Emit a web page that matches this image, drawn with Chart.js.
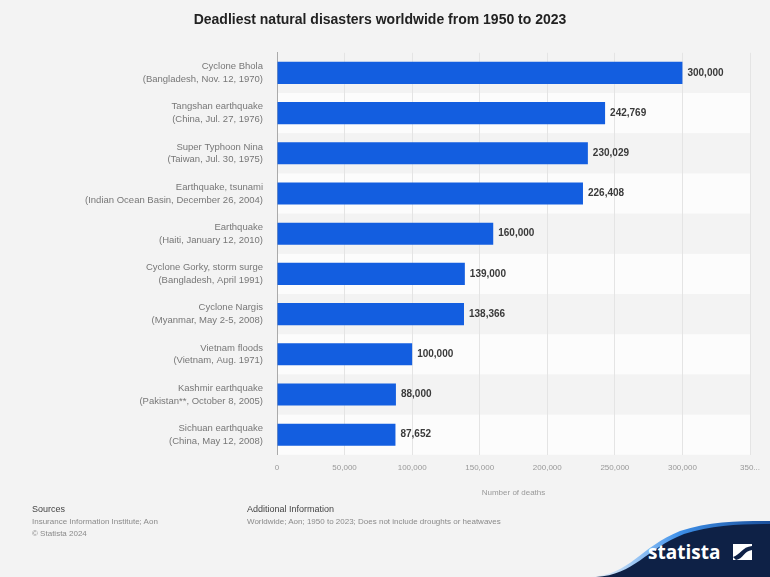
<!DOCTYPE html>
<html>
<head>
<meta charset="utf-8">
<script src="https://cdn.jsdelivr.net/npm/chart.js@4"></script>
<style>
  html, body { margin: 0; padding: 0; background: #f3f3f3; }
  body { width: 770px; height: 577px; position: relative; overflow: hidden; font-family: "Liberation Sans", Arial, sans-serif; }
  #wrap { position: absolute; left: 0; top: 0; width: 770px; height: 505px; }
  .foot { position: absolute; top: 503px; font-size: 8px; color: #8a8a8a; line-height: 12px; }
  .foot b { color: #444; font-weight: normal; font-size: 9px; }
  #logo { position: absolute; right: 0; bottom: 0; width: 180px; height: 60px; }
</style>
</head>
<body>
<div id="wrap"><canvas id="chart" width="770" height="505"></canvas></div>

<div class="foot" style="left:32px"><b>Sources</b><br>Insurance Information Institute; Aon<br>© Statista 2024</div>
<div class="foot" style="left:247px"><b>Additional Information</b><br>Worldwide; Aon; 1950 to 2023; Does not include droughts or heatwaves</div>

<svg id="logo" viewBox="0 0 180 60">
  <defs>
    <linearGradient id="edge" x1="0" y1="0" x2="1" y2="0">
      <stop offset="0" stop-color="#4aa3ff" stop-opacity="0"/>
      <stop offset="0.5" stop-color="#3d8fe8"/>
      <stop offset="1" stop-color="#1b4f9a"/>
    </linearGradient>
  </defs>
  <path d="M0 60 C40 58 50 30 90 14 C120 4 150 4 180 4 L180 60 Z" fill="url(#edge)"/>
  <path d="M6 60 C44 58 56 32 94 17 C122 8 150 7 180 7 L180 60 Z" fill="#0e2146"/>
  <text x="58" y="42" fill="#ffffff" font-family="'Open Sans', 'DejaVu Sans', sans-serif" font-weight="bold" font-size="19">statista</text>
  <rect x="143" y="27" width="19" height="16" fill="#ffffff"/>
  <path d="M143 40 C150 38 152 30 162 29 L162 33 C154 34 153 42 146 43 Z" fill="#0e2146"/>
</svg>

<script>
/* ---------- data ---------- */
const disasters = [
  ["Cyclone Bhola", "(Bangladesh, Nov. 12, 1970)"],
  ["Tangshan earthquake", "(China, Jul. 27, 1976)"],
  ["Super Typhoon Nina", "(Taiwan, Jul. 30, 1975)"],
  ["Earthquake, tsunami", "(Indian Ocean Basin, December 26, 2004)"],
  ["Earthquake", "(Haiti, January 12, 2010)"],
  ["Cyclone Gorky, storm surge", "(Bangladesh, April 1991)"],
  ["Cyclone Nargis", "(Myanmar, May 2-5, 2008)"],
  ["Vietnam floods", "(Vietnam, Aug. 1971)"],
  ["Kashmir earthquake", "(Pakistan**, October 8, 2005)"],
  ["Sichuan earthquake", "(China, May 12, 2008)"]
];
const deaths = [300000, 242769, 230029, 226408, 160000, 139000, 138366, 100000, 88000, 87652];
const xTicks = [0, 50000, 100000, 150000, 200000, 250000, 300000, 350000];

const BAR_BLUE = "#135ee0";
const fmt = v => v.toLocaleString("en-US");

/* ---------- plugins ---------- */
// alternating row bands, painted before grid and bars
const rowBands = {
  id: "rowBands",
  beforeDraw(chart) {
    const { ctx, chartArea, scales } = chart;
    const y = scales.y;
    const step = y.getPixelForValue(1) - y.getPixelForValue(0);
    ctx.save();
    disasters.forEach((_, i) => {
      if (i % 2 === 0) return;
      const c = y.getPixelForValue(i);
      ctx.fillStyle = "rgba(255,255,255,0.7)";
      ctx.fillRect(chartArea.left, c - step / 2, chartArea.right - chartArea.left, step);
    });
    ctx.restore();
  }
};

// value labels at the end of each bar
const valueLabels = {
  id: "valueLabels",
  afterDatasetsDraw(chart) {
    const { ctx } = chart;
    const meta = chart.getDatasetMeta(0);
    ctx.save();
    ctx.font = "bold 10px 'Liberation Sans', Arial, sans-serif";
    ctx.fillStyle = "#3a3a3a";
    ctx.textBaseline = "middle";
    meta.data.forEach((bar, i) => {
      ctx.fillText(fmt(deaths[i]), bar.x + 5, bar.y);
    });
    ctx.restore();
  }
};

/* ---------- chart ---------- */
new Chart(document.getElementById("chart"), {
  type: "bar",
  data: {
    labels: disasters,
    datasets: [{
      data: deaths,
      backgroundColor: BAR_BLUE,
      barPercentage: 0.55,
      categoryPercentage: 1
    }]
  },
  options: {
    indexAxis: "y",
    responsive: false,
    animation: false,
    layout: { padding: { left: 10, right: 20, top: 0, bottom: 7 } },
    plugins: {
      legend: { display: false },
      tooltip: { enabled: false },
      title: {
        display: true,
        text: "Deadliest natural disasters worldwide from 1950 to 2023",
        color: "#222",
        font: { family: "'Liberation Sans', Arial, sans-serif", size: 14, weight: "bold" },
        padding: { top: 12, bottom: 24 }
      }
    },
    scales: {
      x: {
        min: 0,
        max: 350000,
        afterBuildTicks: s => { s.ticks = xTicks.map(v => ({ value: v })); },
        ticks: {
          color: "#999",
          font: { family: "'Liberation Sans', Arial, sans-serif", size: 8 },
          padding: 8,
          maxRotation: 0,
          callback: v => (v === 350000 ? "350..." : fmt(v))
        },
        grid: { color: "#e4e4e4", drawTicks: false },
        border: { display: false },
        title: {
          display: true,
          text: "Number of deaths",
          color: "#999",
          font: { family: "'Liberation Sans', Arial, sans-serif", size: 8 },
          padding: { top: 8, bottom: 0 }
        }
      },
      y: {
        afterFit: s => { s.width = 267; },
        ticks: {
          color: "#777",
          font: { family: "'Liberation Sans', Arial, sans-serif", size: 9.5, lineHeight: 1.35 },
          padding: 6
        },
        grid: { display: false },
        border: { display: true, color: "#aaa", width: 1 }
      }
    }
  },
  plugins: [rowBands, valueLabels]
});
</script>
</body>
</html>
